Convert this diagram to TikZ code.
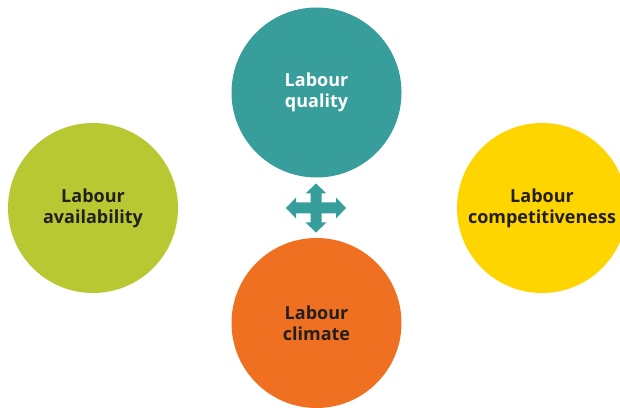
\documentclass[tikz,border=0pt]{standalone}
\usepackage{fontspec}
\setmainfont{Open Sans}
\definecolor{qualteal}{HTML}{389E9C}
\definecolor{availgreen}{HTML}{B8C832}
\definecolor{compyellow}{HTML}{FFD500}
\definecolor{climorange}{HTML}{F07022}
\definecolor{labtext}{HTML}{231F20}
\begin{document}
\begin{tikzpicture}[x=1pt, y=1pt,
  bubble/.style={circle, minimum size=170pt, inner sep=0pt, align=center,
    font=\fontsize{18}{21}\selectfont\bfseries, text=labtext}]
\useasboundingbox (0, 0) rectangle (620, 407);
\clip (0, 0) rectangle (620, 407);
\node[bubble, fill=qualteal, text=white] (quality) at (316.5, 314.5) {Labour\\quality};
\node[bubble, fill=availgreen] (availability) at (93, 199) {Labour\\availability};
\node[bubble, fill=compyellow] (competitiveness) at (542, 199) {Labour\\competitiveness};
\node[bubble, fill=climorange] (climate) at (316.5, 84) {Labour\\climate};
\coordinate (hub) at (316, 199);
\fill[qualteal, shift={(hub)}] (30, 0) -- (20, 10.5) -- (20, 5.5) -- (5.5, 5.5) -- (5.5, 14.5)
  -- (10.5, 14.5) -- (0, 24.5) -- (-10.5, 14.5) -- (-5.5, 14.5) -- (-5.5, 5.5) -- (-20, 5.5)
  -- (-20, 10.5) -- (-30, 0) -- (-20, -10.5) -- (-20, -5.5) -- (-5.5, -5.5) -- (-5.5, -14.5)
  -- (-10.5, -14.5) -- (0, -24.5) -- (10.5, -14.5) -- (5.5, -14.5) -- (5.5, -5.5) -- (20, -5.5)
  -- (20, -10.5) -- cycle;
\end{tikzpicture}
\end{document}
